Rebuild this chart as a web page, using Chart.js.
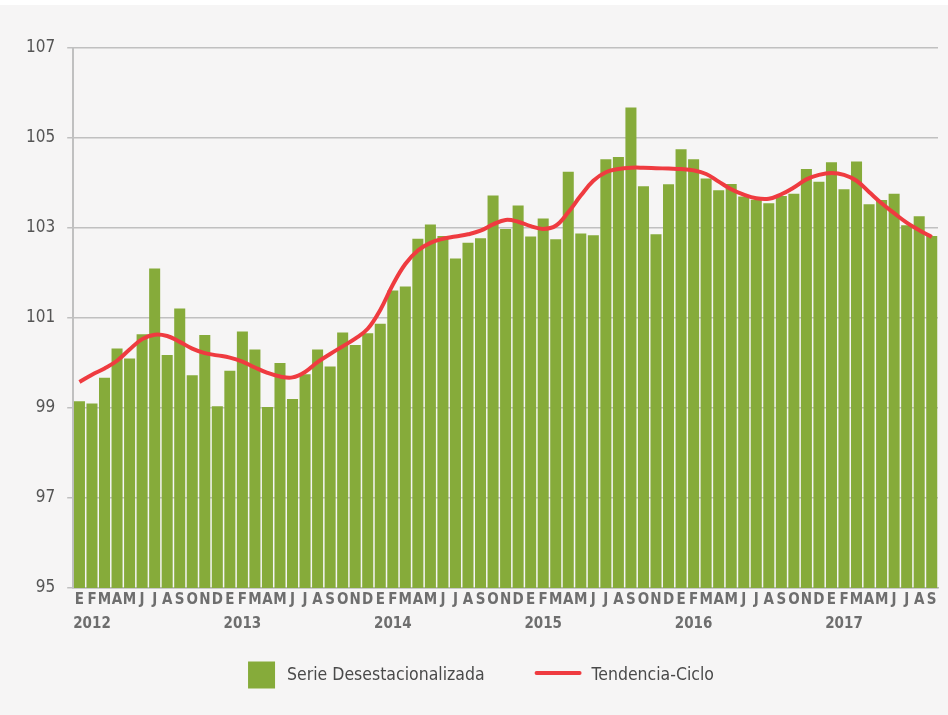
<!DOCTYPE html>
<html>
<head>
<meta charset="utf-8">
<script src="https://cdn.jsdelivr.net/npm/chart.js@4"></script>
<style>
  html, body { margin: 0; padding: 0; background: #ffffff; }
  #marco { width: 948px; height: 710px; background: #f6f5f5; margin-top: 5px; position: relative; }
</style>
</head>
<body>
<div id="marco"><canvas id="grafico" width="948" height="710"></canvas></div>
<script>
// meses y años del eje horizontal
var meses = ['E', 'F', 'M', 'A', 'M', 'J', 'J', 'A', 'S', 'O', 'N', 'D'];
var anios = ['2012', '2013', '2014', '2015', '2016', '2017'];
var mesesUltimoAnio = 9;

// Serie desestacionalizada (barras)
var serieDesest = [
  99.15, 99.10, 99.67, 100.32, 100.10, 100.64, 102.10, 100.18, 101.21, 99.73, 100.62, 99.04,
  99.83, 100.70, 100.30, 99.02, 100.00, 99.20, 99.75, 100.30, 99.92, 100.68, 100.40, 100.66,
  100.87, 101.61, 101.70, 102.76, 103.08, 102.82, 102.32, 102.67, 102.77, 103.72, 102.98, 103.50,
  102.81, 103.21, 102.75, 104.25, 102.88, 102.84, 104.53, 104.58, 105.68, 103.93, 102.86, 103.97,
  104.75, 104.53, 104.10, 103.84, 103.98, 103.70, 103.63, 103.55, 103.71, 103.76, 104.31, 104.03,
  104.46, 103.86, 104.48, 103.53, 103.62, 103.76, 103.06, 103.26, 102.82
];

// Tendencia-ciclo (linea)
var tendencia = [
  99.58, 99.74, 99.88, 100.05, 100.30, 100.53, 100.63, 100.60, 100.47, 100.32, 100.22, 100.17,
  100.12, 100.03, 99.90, 99.78, 99.70, 99.68, 99.80, 100.02, 100.20, 100.37, 100.54, 100.76,
  101.18, 101.74, 102.20, 102.50, 102.67, 102.76, 102.81, 102.86, 102.94, 103.08, 103.18, 103.14,
  103.04, 102.98, 103.05, 103.35, 103.72, 104.05, 104.24, 104.31, 104.34, 104.34, 104.33, 104.32,
  104.31, 104.28, 104.20, 104.03, 103.86, 103.74, 103.66, 103.65, 103.75, 103.90, 104.08, 104.18,
  104.22, 104.18, 104.05, 103.80, 103.55, 103.33, 103.12, 102.95, 102.80
];

var ticksY = [95, 97, 99, 101, 103, 105, 107];

var fuente = "'Liberation Sans Narrow', 'DejaVu Sans Condensed', 'Roboto', sans-serif";

// etiquetas: letra del mes, y el año debajo de febrero
var etiquetas = [];
for (var a = 0; a < anios.length; a++) {
  var n = (a == anios.length - 1) ? mesesUltimoAnio : 12;
  for (var m = 0; m < n; m++) {
    if (m == 1) {
      etiquetas.push([meses[m], anios[a]]);
    } else {
      etiquetas.push(meses[m]);
    }
  }
}

// leyenda dibujada a mano (cuadro verde y trazo rojo)
var leyenda = {
  id: 'leyenda',
  afterDraw: function(chart) {
    var ctx = chart.ctx;
    var barras = chart.data.datasets[1];
    var linea = chart.data.datasets[0];
    ctx.save();
    ctx.font = '17.5px ' + fuente;
    ctx.textBaseline = 'middle';
    var caja = 27, largo = 43, sep = 12, entre = 52;
    var w0 = ctx.measureText(barras.label).width;
    var w1 = ctx.measureText(linea.label).width;
    var total = caja + sep + w0 + entre + largo + sep + w1;
    var x = (chart.width - total) / 2 + 7;
    var y = chart.height - 40;

    ctx.fillStyle = barras.backgroundColor;
    ctx.fillRect(x, y - caja / 2, caja, caja);
    x += caja + sep;
    ctx.fillStyle = '#4a4a4a';
    ctx.fillText(barras.label, x, y);
    x += w0 + entre;

    ctx.strokeStyle = linea.borderColor;
    ctx.lineWidth = 4;
    ctx.lineCap = 'round';
    ctx.beginPath();
    ctx.moveTo(x, y - 2);
    ctx.lineTo(x + largo, y - 2);
    ctx.stroke();
    x += largo + sep;
    ctx.fillText(linea.label, x, y);
    ctx.restore();
  }
};

var ctxG = document.getElementById('grafico').getContext('2d');
var grafico = new Chart(ctxG, {
  type: 'bar',
  data: {
    labels: etiquetas,
    datasets: [{
      type: 'line',
      label: 'Tendencia-Ciclo',
      data: tendencia,
      borderColor: '#ef3b40',
      backgroundColor: '#ef3b40',
      borderWidth: 4,
      pointRadius: 0,
      tension: 0.4,
      fill: false
    }, {
      type: 'bar',
      label: 'Serie Desestacionalizada',
      data: serieDesest,
      backgroundColor: '#86ab3a',
      borderWidth: 0,
      barPercentage: 0.88,
      categoryPercentage: 1.0
    }]
  },
  options: {
    responsive: false,
    animation: false,
    layout: {
      padding: { left: 14, right: 10, top: 43, bottom: 87 }
    },
    plugins: {
      legend: { display: false },
      tooltip: { enabled: false }
    },
    scales: {
      x: {
        grid: { display: false },
        border: { display: true, color: '#b5b5b5', width: 1.5 },
        ticks: {
          autoSkip: false,
          maxRotation: 0,
          minRotation: 0,
          padding: -8,
          color: '#6e6e6e',
          font: { family: fuente, size: 15, weight: 'bold', lineHeight: 1.6 }
        }
      },
      y: {
        min: 95,
        max: 107,
        afterBuildTicks: function(axis) {
          axis.ticks = ticksY.map(function(v) { return { value: v }; });
        },
        grid: {
          color: '#c0c0c0',
          lineWidth: 1.5,
          tickLength: 6
        },
        border: { display: true, color: '#c0c0c0', width: 2 },
        ticks: {
          padding: 12,
          color: '#555555',
          font: { family: fuente, size: 17 }
        }
      }
    }
  },
  plugins: [leyenda]
});
</script>
</body>
</html>
